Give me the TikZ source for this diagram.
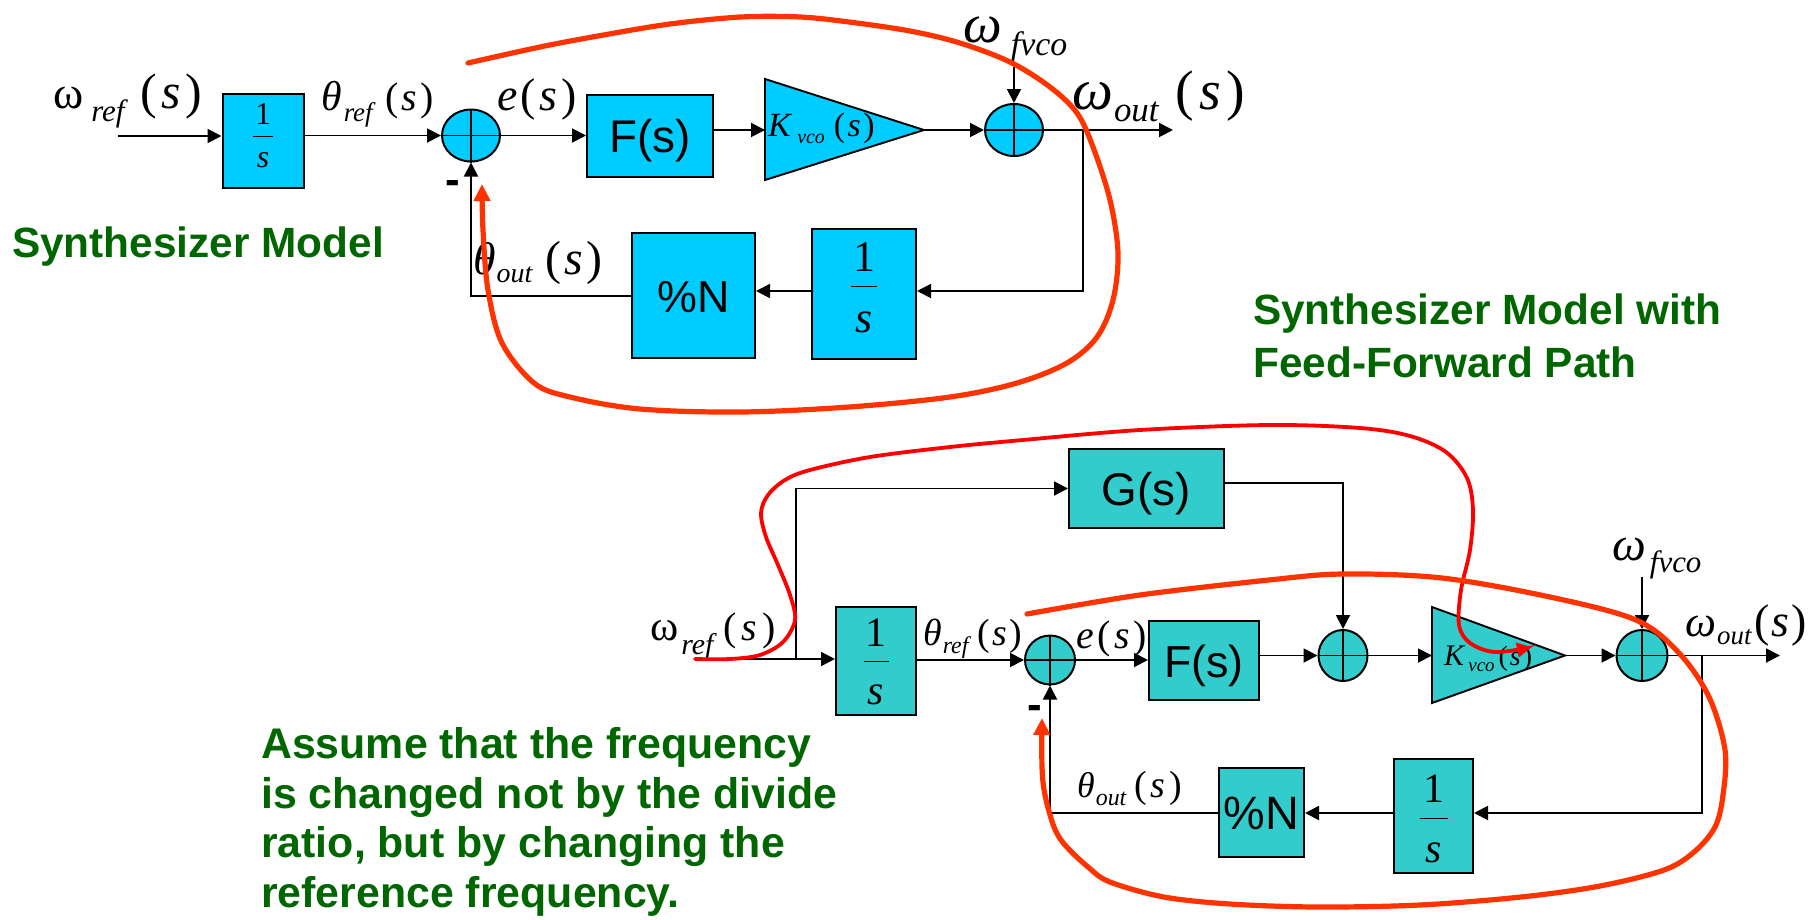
\documentclass[tikz,border=0pt]{standalone}
\usepackage{fontspec}
\setmainfont{Liberation Sans}
\newfontfamily\tms{Liberation Serif}
\usetikzlibrary{arrows.meta,shapes.geometric}
\definecolor{topc}{RGB}{0,204,255}
\definecolor{botc}{RGB}{51,204,204}
\definecolor{grn}{RGB}{0,102,0}
\definecolor{redA}{RGB}{255,51,0}
\definecolor{redB}{RGB}{255,0,0}
\newcommand{\fs}[1]{\fontsize{#1}{#1}\selectfont}
\newcommand{\subt}[3]{\raisebox{-#1bp}{\fs{#2}\itshape #3}}
\newcommand{\ps}[2]{{\fs{#1}(\hspace{#2bp}\textit{s}\hspace{#2bp})}}
\tikzset{
  ln/.style={line width=1.9bp, draw=black},
  arr/.style={ln, -{Triangle[length=14bp,width=14bp]}},
  blkA/.style={draw=black, line width=2bp, fill=topc, inner sep=0pt, text height=33bp, text depth=0bp},
  blkB/.style={draw=black, line width=2bp, fill=botc, inner sep=0pt, text height=33bp, text depth=0bp},
  sumA/.style={ellipse, draw=black, line width=2bp, fill=topc, inner sep=0pt},
  sumB/.style={ellipse, draw=black, line width=2bp, fill=botc, inner sep=0pt},
  frac/.style={inner sep=0pt, align=center},
  lbl/.style={inner sep=0pt, font=\tms, anchor=base west},
  mins/.style={inner sep=0pt, anchor=base, font=\bfseries\fs{44}},
  note/.style={inner sep=0pt, text=grn},
  rthick/.style={draw=redA, line width=5.2bp, line cap=round, -{Triangle[length=17bp,width=16bp]}},
  rthin/.style={draw=redB, line width=3.8bp, line cap=round, -{Triangle[length=15bp,width=14bp]}},
}
\begin{document}
\begin{tikzpicture}[x=1bp,y=-1bp]
\useasboundingbox (0,0) rectangle (1816,919);
\fill[white] (0,0) rectangle (1816,919);

% ================= TOP DIAGRAM =================
\node[blkA, minimum width=81bp, minimum height=94bp] (b1) at (263,141) {};
\node[frac, font=\tms\fontsize{32}{21.5}\selectfont] (b1t) at (263,135.7) {1\\\rule[8.75bp]{20bp}{1.6bp}\\\textit{s}};
\node[sumA, minimum width=58bp, minimum height=52bp] (s1) at (471,135.5) {};
\draw[ln] (s1.north) -- (s1.south) (s1.west) -- (s1.east);
\node[blkA, minimum width=126bp, minimum height=82bp, font=\fs{46}] (f1) at (650,136) {F(s)};
\draw[ln, fill=topc] (765,79) -- (924,130) -- (765,180) -- cycle;
\coordinate (k1in) at (765,130);
\coordinate (k1out) at (924,130);
\node[sumA, minimum width=58bp, minimum height=52bp] (s2) at (1014,130) {};
\draw[ln] (s2.north) -- (s2.south) (s2.west) -- (s2.east);
\node[blkA, minimum width=104bp, minimum height=130bp] (b2) at (864,294) {};
\node[frac, font=\tms\fontsize{44}{30.5}\selectfont] (b2t) at (864,287.7) {1\\\rule[14.5bp]{26bp}{1.6bp}\\\textit{s}};
\node[blkA, minimum width=123bp, minimum height=125bp, font=\fs{45}] (n1) at (693.5,295.5) {\%N};

\coordinate (inA) at (118,136);
\coordinate (wf1) at (1014,67);
\coordinate (out1) at (1173,130);
\coordinate (br1) at (1083,130);
\coordinate (fb1) at (1083,291);
\coordinate (fb2) at (471,296);

\draw[arr] (inA) -- (inA -| b1.west);
\draw[arr] (b1.east |- s1.west) -- (s1.west);
\draw[arr] (s1.east) -- (f1.west |- s1.east);
\draw[arr] (f1.east |- k1in) -- (k1in);
\draw[arr] (k1out) -- (s2.west);
\draw[arr] (wf1) -- (s2.north);
\draw[arr] (s2.east) -- (out1);
\draw[arr] (br1) |- (b2.east |- fb1);
\draw[arr] (b2.west |- fb1) -- (n1.east |- fb1);
\draw[arr] (n1.west |- fb2) -| (s1.south);

% labels top
\node[lbl] (wref1) at (53,108) {\fs{46}ω\hspace{8bp}\subt{13}{31}{ref}\hspace{16bp}\ps{50}{4.5}};
\node[lbl] (tref1) at (321,110) {\fs{42}\textit{θ}\hspace{2bp}\subt{11}{27}{ref}\hspace{13bp}\ps{40}{3}};
\node[lbl] (e1) at (497,110) {\fs{46}\textit{e}\hspace{3bp}(\hspace{4bp}\textit{s}\hspace{4bp})};
\node[lbl] (kv1) at (768,136) {\fs{34}\textit{K}\hspace{5bp}\subt{7}{20}{vco}\hspace{9bp}\ps{34}{2.5}};
\node[lbl] (wfv1) at (963,42) {\fs{55}\textit{ω}\hspace{9bp}\subt{13}{34}{fvco}};
\node[lbl] (wout1) at (1072,109) {\fs{58}\textit{ω}\hspace{1bp}\subt{12}{35}{out}\hspace{17bp}\ps{56}{5.5}};
\node[lbl] (tout1) at (473,274) {\fs{46}\textit{θ}\hspace{1bp}\subt{8}{28}{out}\hspace{13bp}\ps{48}{3.2}};
\node[mins] (m1) at (452.5,194) {-};

\node[note, anchor=base west, font=\bfseries\fs{42.5}] (t1) at (12,257) {Synthesizer Model};

% ================= BOTTOM DIAGRAM =================
\node[blkB, minimum width=155bp, minimum height=79bp, font=\fs{46}] (g) at (1146.5,488.5) {G(s)};
\node[blkB, minimum width=80bp, minimum height=108bp] (b3) at (876,661) {};
\node[frac, font=\tms\fontsize{42}{29}\selectfont] (b3t) at (876,661.8) {1\\\rule[13bp]{25bp}{1.6bp}\\\textit{s}};
\node[sumB, minimum width=50bp, minimum height=49bp] (s3) at (1050,660) {};
\draw[ln] (s3.north) -- (s3.south) (s3.west) -- (s3.east);
\node[blkB, minimum width=110bp, minimum height=79bp, font=\fs{45}] (f2) at (1204,660.5) {F(s)};
\node[sumB, minimum width=49bp, minimum height=51bp] (s4) at (1343,655.5) {};
\draw[ln] (s4.north) -- (s4.south) (s4.west) -- (s4.east);
\draw[ln, fill=botc] (1432,607) -- (1565,655.5) -- (1432,703) -- cycle;
\coordinate (k2in) at (1432,655.5);
\coordinate (k2out) at (1565,655.5);
\node[sumB, minimum width=51bp, minimum height=51bp] (s5) at (1642,655.5) {};
\draw[ln] (s5.north) -- (s5.south) (s5.west) -- (s5.east);
\node[blkB, minimum width=79bp, minimum height=114bp] (b4) at (1433.5,816) {};
\node[frac, font=\tms\fontsize{42}{29.7}\selectfont] (b4t) at (1433.5,818.8) {1\\\rule[13bp]{28bp}{1.6bp}\\\textit{s}};
\node[blkB, minimum width=85bp, minimum height=89bp, font=\fs{47}] (n2) at (1261.5,812.5) {\%N};

\coordinate (inB) at (700,659);
\coordinate (brB) at (796,659);
\coordinate (gb) at (1343,483);
\coordinate (wf2) at (1642,577);
\coordinate (out2) at (1780,655.5);
\coordinate (br2) at (1702,655.5);
\coordinate (fb3) at (1702,813);
\coordinate (fb4) at (1050,813);

\draw[arr] (inB) -- (inB -| b3.west);
\draw[arr] (brB) |- (g.west);
\draw[arr] (b3.east |- s3.west) -- (s3.west);
\draw[arr] (s3.east) -- (f2.west |- s3.east);
\draw[arr] (f2.east |- s4.west) -- (s4.west);
\draw[arr] (g.east |- gb) -| (s4.north);
\draw[arr] (s4.east) -- (k2in);
\draw[arr] (k2out) -- (s5.west);
\draw[arr] (wf2) -- (s5.north);
\draw[arr] (s5.east) -- (out2);
\draw[arr] (br2) |- (b4.east |- fb3);
\draw[arr] (b4.west |- fb3) -- (n2.east |- fb3);
\draw[arr] (n2.west |- fb4) -| (s3.south);

% labels bottom
\node[lbl] (wref2) at (650,640) {\fs{43}ω\hspace{3bp}\subt{14}{30}{ref}\hspace{10bp}\ps{40}{5}};
\node[lbl] (tref2) at (923,645) {\fs{38}\textit{θ}\hspace{1bp}\subt{8}{24}{ref}\hspace{9bp}\ps{38}{2.5}};
\node[lbl] (e2) at (1076,648) {\fs{40}\textit{e}\hspace{3.5bp}(\hspace{3.5bp}\textit{s}\hspace{3.5bp})};
\node[lbl] (kv2) at (1444,665) {\fs{30}\textit{K}\hspace{3bp}\subt{6}{19}{vco}\hspace{4bp}\ps{28}{2}};
\node[lbl] (wfv2) at (1612,560) {\fs{48}\textit{ω}\hspace{4bp}\subt{12}{31}{fvco}};
\node[lbl] (wout2) at (1685,636) {\fs{44}\textit{ω}\hspace{1bp}\subt{8}{27}{out}\hspace{3bp}\ps{46}{2}};
\node[lbl] (tout2) at (1077,797) {\fs{36}\textit{θ}\hspace{1bp}\subt{8}{24}{out}\hspace{8bp}\ps{38}{4}};
\node[mins] (m2) at (1035,719) {-};

\node[note, anchor=north west, align=left, font=\bfseries\fontsize{42.5}{53}\selectfont] (t2) at (1253,294) {Synthesizer Model with\\Feed-Forward Path};
\node[note, anchor=north west, align=left, font=\bfseries\fontsize{43}{50}\selectfont] (t3) at (261,727) {Assume that the frequency\\is changed not by the divide\\ratio, but by changing the\\reference frequency.};

% ================= RED ANNOTATION CURVES =================
\draw[rthick] plot[smooth, tension=0.55] coordinates {(468,63) (540,47) (598,36) (670,24) (741,17) (800,17) (849,22) (910,31) (960,43) (1010,62) (1050,87) (1077,113) (1093,147) (1110,200) (1118,253) (1113,300) (1097,337) (1067,363) (1017,383) (950,397) (849,407) (741,412) (640,409) (570,397) (534,383) (502,343) (488,290) (483,230) (482,184)};

\draw[rthin] plot[smooth, tension=0.55] coordinates {(695,659) (730,659) (760,655) (783,642) (795,620) (790,595) (778,565) (766,537) (761,513) (768,495) (785,480) (810,470) (870,457) (950,447) (1023,440) (1140,430) (1269,425) (1360,428) (1410,436) (1446,452) (1467,478) (1473,510) (1470,550) (1461,590) (1459,625) (1470,643) (1495,652) (1532,647)};

\draw[rthick] plot[smooth, tension=0.55] coordinates {(1027,614) (1140,595) (1269,580) (1343,574) (1442,578) (1550,597) (1636,620) (1679,653) (1709,697) (1725,750) (1723,795) (1715,827) (1694,852) (1664,870) (1600,886) (1521,897) (1420,905) (1317,907) (1230,904) (1164,897) (1110,882) (1088,867) (1065,845) (1054,827) (1045,795) (1042,767) (1042,718)};
\end{tikzpicture}
\end{document}
